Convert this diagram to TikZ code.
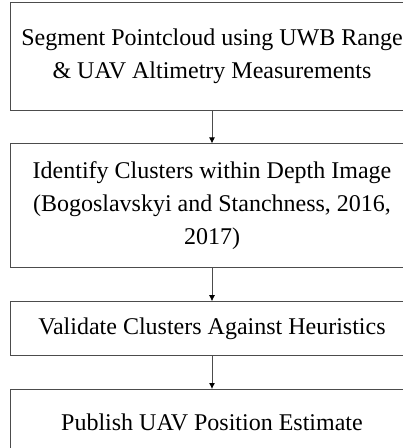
\documentclass[tikz,border=0pt]{standalone}
\usepackage{fontspec}
\setmainfont{Liberation Serif}
\usetikzlibrary{positioning,arrows.meta}

\begin{document}
\begin{tikzpicture}[
	stepbox/.style={ draw=black!70, line width=0.8pt, rectangle, align=center, inner sep=0pt, minimum width=404pt, font=\fontsize{24}{33}\selectfont },
	flow/.style={ draw=black!70, line width=0.8pt, -{Latex[length=6pt,width=6pt,black]} }
]
\clip (0,0) rectangle (403pt,-448pt);

\node at (212pt,-56pt) (seg) [stepbox,minimum height=108pt] {Segment Pointcloud using UWB Range\\\& UAV Altimetry Measurements};
\node [stepbox,minimum height=124pt,below=33pt of seg] (ident) {Identify Clusters within Depth Image\\(Bogoslavskyi and Stanchness, 2016,\\2017)};
\node [stepbox,minimum height=54pt,below=33pt of ident] (valid) {Validate Clusters Against Heuristics};
\node [stepbox,minimum height=66pt,below=33pt of valid] (publ) {Publish UAV Position Estimate};
\draw[flow] (seg) -- (ident);
\draw[flow] (ident) -- (valid);
\draw[flow] (valid) -- (publ);

\end{tikzpicture}
\end{document}
